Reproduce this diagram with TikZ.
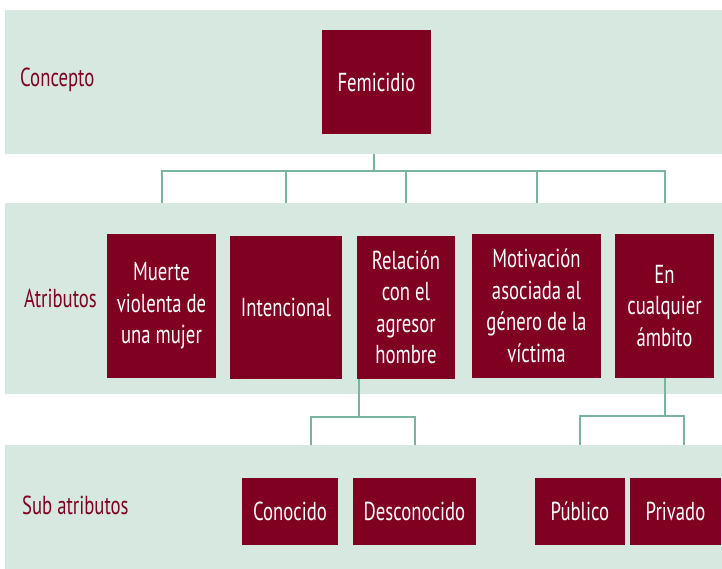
\documentclass[tikz,border=0pt]{standalone}
\usepackage{fontspec}
\setmainfont{PT Sans}[FakeStretch=0.72]
\usepackage{tikz}
\usetikzlibrary{calc}
\definecolor{vino}{RGB}{128,0,34}
\definecolor{franja}{RGB}{215,232,224}
\definecolor{enlace}{RGB}{122,180,160}

\begin{document}
\begin{tikzpicture}[
    x=1pt, y=-1pt,
    band/.style={fill=franja, draw=none, inner sep=0pt},
    box/.style={fill=vino, draw=none, inner sep=0pt, text=white, align=center,
      font=\fontsize{26}{31.5}\selectfont},
    tag/.style={anchor=west, text=vino, inner sep=0pt, font=\fontsize{26}{31.5}\selectfont},
    link/.style={draw=enlace, line width=2pt}
    ]
    \useasboundingbox (0,0) rectangle (722,569);
    \node[band, minimum width=717, minimum height=144] (b1) at (363.5,82) {};
    \node[band, minimum width=717, minimum height=191] (b2) at (363.5,298.5) {};
    \node[band, minimum width=717, minimum height=124] (b3) at (363.5,507) {};
    \node[tag] (concepto) at (20,80) {Concepto};
    \node[tag] (atributos) at (24,298) {Atributos};
    \node[tag] (subatributos) at (22,505) {Sub atributos};
    \node[box, minimum width=109, minimum height=104] (fem) at (376.5,82) {Femicidio};
    \node[box, minimum width=109, minimum height=144] (mue) at (161.5,306) {Muerte\\violenta de\\una mujer};
    \node[box, minimum width=112, minimum height=143] (int) at (286,307.5) {Intencional};
    \node[box, minimum width=98, minimum height=143] (rel) at (406,307.5) {Relación\\con el\\agresor\\hombre};
    \node[box, minimum width=129, minimum height=144] (mot) at (536.5,306) {Motivación\\asociada al\\género de la\\víctima};
    \node[box, minimum width=99, minimum height=144] (amb) at (664.5,306) {En\\cualquier\\ámbito};
    \node[box, minimum width=96, minimum height=67] (con) at (290,511.5) {Conocido};
    \node[box, minimum width=123, minimum height=67] (des) at (414.5,511.5) {Desconocido};
    \node[box, minimum width=90, minimum height=67] (pub) at (580,511.5) {Público};
    \node[box, minimum width=91, minimum height=67] (pri) at (675.5,511.5) {Privado};
    \draw[link] ($(fem |- b1.south)+(-2.5,0)$) -- ++(0,17) coordinate (j1);
    \foreach \n in {mue,int,rel,mot,amb}
      \draw[link] (j1) -| (\n |- b2.north);
    \draw[link] ($(rel.south west)+(2,0)$) -- ++(0,38) coordinate (j2);
    \draw[link] (j2) -| ($(con |- b3.north)+(21,0)$);
    \draw[link] (j2) -| (des |- b3.north);
    \draw[link] (amb.south) -- ++(0,38) coordinate (j3);
    \draw[link] (j3) -| (pub |- b3.north);
    \draw[link] (j3) -| ($(pri |- b3.north)+(8,0)$);
  \end{tikzpicture}
\end{document}
